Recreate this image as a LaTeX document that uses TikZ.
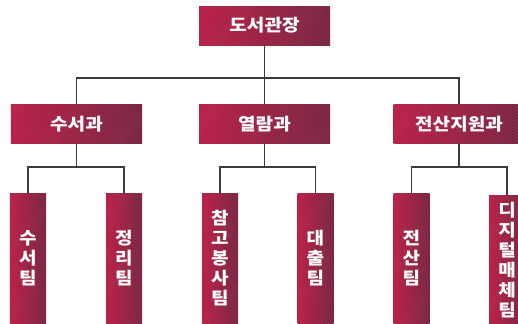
\documentclass[tikz,border=0pt]{standalone}
\usepackage{fontspec}
\newfontfamily\kr[FakeStretch=1.12]{Noto Sans CJK KR}
\usetikzlibrary{patterns,calc}
\definecolor{cleft}{RGB}{184,28,68}
\definecolor{cright}{RGB}{118,34,62}
\definecolor{conncol}{RGB}{60,60,60}
\tikzset{
  boxbase/.style={rectangle, inner sep=0pt, draw=none, left color=cleft, right color=cright,
    text=white, font=\kr\bfseries\fontsize{17bp}{20bp}\selectfont, align=center,
    postaction={pattern=north east lines, pattern color=white, opacity=0.12}},
  hbox/.style={boxbase, minimum width=131bp, minimum height=39bp},
  vbox/.style={boxbase, minimum width=36bp, minimum height=130bp, text width=22bp},
  conn/.style={draw=conncol, line width=1.4bp}
}
\begin{document}
\begin{tikzpicture}[x=1bp,y=-1bp]
\useasboundingbox (0,0) rectangle (518,323);
\fill[white] (0,0) rectangle (518,323);
% top
\node[hbox] (top) at (264.5,25.5) {도서관장};
% level 2
\node[hbox] (a) at (76.5,124) {수서과};
\node[hbox] (b) at (264.5,124) {열람과};
\node[hbox] (c) at (459,124) {전산지원과};
% level 3
\node[vbox] (a1) at (28,258) {수\\서\\팀};
\node[vbox] (a2) at (124,258) {정\\리\\팀};
\node[vbox] (b1) at (220,258) {참\\고\\봉\\사\\팀};
\node[vbox] (b2) at (315.5,258) {대\\출\\팀};
\node[vbox] (c1) at (411.5,258) {전\\산\\팀};
\node[vbox] (c2) at (507,260) {디\\지\\털\\매\\체\\팀};
% connectors
\coordinate (h1) at (0,78);
\coordinate (h2) at (0,167);
\draw[conn] (top.south) -- (top.south |- h1) -| (a.north);
\draw[conn] (top.south |- h1) -| (b.north);
\draw[conn] (top.south |- h1) -| (c.north);
\draw[conn] (a.south) -- (a.south |- h2) -| (a1.north);
\draw[conn] (a.south |- h2) -| (a2.north);
\draw[conn] (b.south) -- (b.south |- h2) -| (b1.north);
\draw[conn] (b.south |- h2) -| (b2.north);
\draw[conn] (c.south) -- (c.south |- h2) -| (c1.north);
\draw[conn] (c.south |- h2) -| (c2.north);
\end{tikzpicture}
\end{document}
